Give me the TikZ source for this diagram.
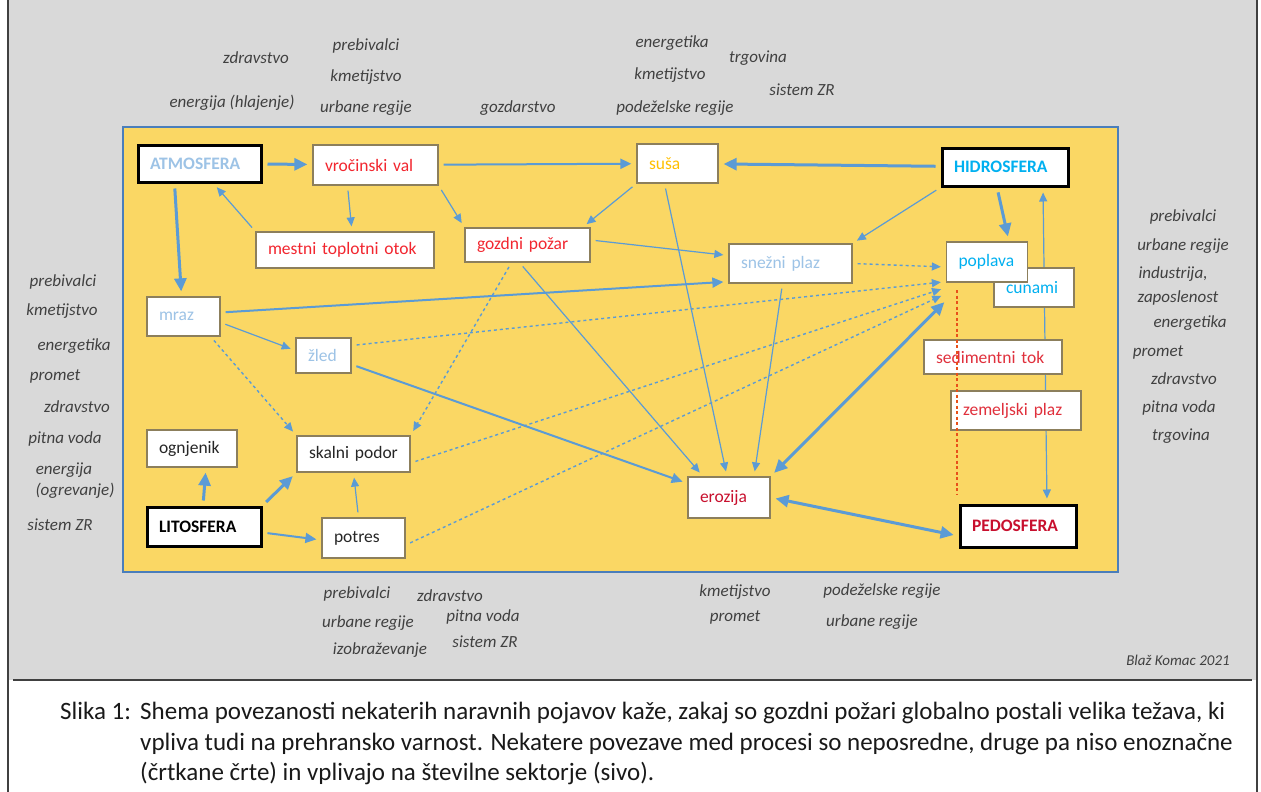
\documentclass[tikz,border=0pt]{standalone}
\usepackage{fontspec}
\setmainfont{Carlito}
\usepackage{tikz}
\usetikzlibrary{arrows.meta}
\usetikzlibrary{calc}
\definecolor{mygrey}{HTML}{D9D9D9}
\definecolor{myyellow}{HTML}{FAD764}
\definecolor{myframe}{HTML}{4A7EBB}
\definecolor{myarrow}{HTML}{5B9BD5}
\definecolor{mybox}{HTML}{8C7F5C}
\definecolor{mylabel}{HTML}{404040}
\definecolor{atmblue}{HTML}{9DC3E6}
\definecolor{hidblue}{HTML}{00B0F0}
\definecolor{myred}{HTML}{F2262F}
\definecolor{sedred}{HTML}{E0303C}
\definecolor{darkred}{HTML}{C8102E}
\definecolor{myorange}{HTML}{FFC000}
\definecolor{mydash}{HTML}{E8501A}
\pgfdeclarelayer{back}
\pgfdeclarelayer{edges}
\pgfsetlayers{back,edges,main}

\begin{document}
\begin{tikzpicture}[x=1pt,y=-1pt,>={Triangle[length=9pt,width=8pt]},
  shorten >=5pt,shorten <=5pt,
  box node/.style={draw=mybox,fill=white,line width=1.3pt,inner xsep=12pt,inner ysep=0pt,
    align=left,text=black!85,font=\fontsize{17.5}{20}\selectfont},
  sphere node/.style={box node,draw=black,line width=3pt,font=\fontsize{17.5}{20}\selectfont\bfseries},
  label node/.style={text=mylabel,inner sep=0pt,font=\fontsize{17}{20}\selectfont\itshape},
  caption node/.style={anchor=base west,inner sep=0pt,text=black!90,font=\fontsize{25}{28}\selectfont},
  thin edge/.style={draw=myarrow,line width=1.2pt,->},
  mid edge/.style={draw=myarrow,line width=2pt,>={Triangle[length=11pt,width=10pt]},->},
  thick edge/.style={draw=myarrow,line width=3pt,>={Triangle[length=13pt,width=12pt]},->},
  dash edge/.style={draw=myarrow,line width=1.4pt,dash pattern=on 3pt off 3pt,->}]

\useasboundingbox (0,0) rectangle (1261,792);

\begin{pgfonlayer}{back}
\fill[mygrey] (8,0) rectangle (1257,680);
\draw[black!75,line width=1.5pt] (8,0) -- (8,792) (1257,0) -- (1257,792) (8,680) -- (1257,680);
\draw[fill=myyellow,draw=myframe,line width=2pt] (123,127) rectangle (1118,572);
\end{pgfonlayer}

% spheres and processes
\node[sphere node,text=atmblue,text width=99pt,minimum height=37pt] (atm) at (199.5,163.5) {ATMOSFERA};
\node[box node,text=myred,text width=101pt,minimum height=40pt] (vval) at (375.5,165) {vročinski val};
\node[box node,text=myorange,text width=57pt,minimum height=39pt] (susa) at (677.5,163.5) {suša};
\node[sphere node,text=hidblue,text width=102pt,minimum height=38pt] (hidro) at (1005,167) {HIDROSFERA};
\node[box node,text=myred,text width=154pt,minimum height=36pt] (mesto) at (345,250) {mestni toplotni otok};
\node[box node,text=myred,text width=101pt,minimum height=34pt] (gozd) at (527.5,245) {gozdni požar};
\node[box node,text=atmblue,text width=99pt,minimum height=39pt] (snez) at (790.5,263.5) {snežni plaz};
\node[box node,text=hidblue,text width=56pt,minimum height=39pt] (cun) at (1034,287.5) {cunami};
\node[box node,text=hidblue,text width=57pt,minimum height=40pt] (popl) at (987,262) {poplava};
\node[box node,text=atmblue,text width=49pt,minimum height=39pt] (mraz) at (183.5,316.5) {mraz};
\node[box node,text=atmblue,text width=31pt,minimum height=35pt] (zled) at (323.5,355.5) {žled};
\node[box node,text=sedred,text width=114pt,minimum height=34pt] (sed) at (993,357) {sedimentni tok};
\node[box node,text=sedred,text width=106pt,minimum height=39pt] (zem) at (1016,410.5) {zemeljski plaz};
\node[box node,text width=66pt,minimum height=37pt] (ogn) at (192,448.5) {ognjenik};
\node[box node,text width=89pt,minimum height=36pt] (skal) at (353.5,454) {skalni podor};
\node[box node,text=darkred,text width=58pt,minimum height=41pt] (eroz) at (729,497.5) {erozija};
\node[sphere node,text=black,text width=90pt,minimum height=39pt] (lito) at (204,526.5) {LITOSFERA};
\node[box node,text width=59pt,minimum height=40pt] (potr) at (363.5,538) {potres};
\node[sphere node,text=darkred,text width=92pt,minimum height=42pt] (pedo) at (1018,526) {PEDOSFERA};

\coordinate (sepA) at (957,290);
\coordinate (sepB) at (957,495);
\draw[mydash,line width=1.2pt,dash pattern=on 3pt off 2.5pt,shorten <=0pt,shorten >=0pt] (sepA) -- (sepB);

% sectors (grey)
\foreach \x/\y/\t [count=\i] in {256/58/zdravstvo,232/103/energija (hlajenje),366/46/prebivalci,
  366/77/kmetijstvo,366/108/urbane regije,518/108/gozdarstvo,672/43/energetika,670/75/kmetijstvo,
  675/108/podeželske regije,758/58/trgovina,802/90/sistem ZR,
  63/282/prebivalci,62/311/kmetijstvo,74/346/energetika,55/376/promet,77/407/zdravstvo,
  65/439/pitna voda,64/470/energija,75/491/(ogrevanje),60/525/sistem ZR,
  1183/217/prebivalci,1183/246/urbane regije,1173/274/{industrija,},1178/298/zaposlenost,
  1190/323/energetika,1158/352/promet,1184/379/zdravstvo,1179/408/pitna voda,1181/436/trgovina,
  357/594/prebivalci,450/596/zdravstvo,483/617/pitna voda,368/623/urbane regije,
  485/642/sistem ZR,380/650/izobraževanje,735/592/kmetijstvo,735/617/promet,
  882/591/podeželske regije,872/622/urbane regije}{
  \node[label node] (lab\i) at (\x,\y) {\t};
}
\node[label node,font=\fontsize{15}{18}\selectfont\itshape] (author) at (1178,660) {Blaž Komac 2021};

\node[caption node] (cap0) at (60,719) {Slika 1:};
\node[caption node] (cap1) at (140,719) {Shema povezanosti nekaterih naravnih pojavov kaže, zakaj so gozdni požari globalno postali velika težava, ki};
\node[caption node] (cap2) at (140,750) {vpliva tudi na prehransko varnost. Nekatere povezave med procesi so neposredne, druge pa niso enoznačne};
\node[caption node] (cap3) at (140,780) {(črtkane črte) in vplivajo na številne sektorje (sivo).};

\begin{pgfonlayer}{edges}
\path
(atm) edge [thick edge] (vval)
([xshift=-25pt]atm.south) edge [thick edge] ([xshift=-2pt]mraz.north)
(mesto.north west) edge [thin edge] ([xshift=14pt]atm.south)
(vval) edge [mid edge] (susa)
([xshift=-28pt]vval.south) edge [thin edge] ([xshift=7pt]mesto.north)
(vval.south east) edge [thin edge] (gozd.north west)
(hidro) edge [thick edge] (susa)
(susa.south west) edge [thin edge] ([xshift=-8pt]gozd.north east)
([xshift=-13pt]susa.south) edge [thin edge] ([xshift=-2pt]eroz.north)
(hidro.south west) edge [thin edge] (snez.north east)
([xshift=-8pt]hidro.south) edge [thick edge] ([xshift=22pt]popl.north)
([xshift=38pt]hidro.south) edge [thin edge,<->] ([xshift=29pt]pedo.north)
([yshift=5pt]gozd.east) edge [thin edge] ([yshift=8pt]snez.west)
([xshift=-8pt]gozd.south) edge [thin edge] ([xshift=-26pt]eroz.north)
([xshift=-16pt]gozd.south) edge [dash edge] (skal.north east)
([yshift=4pt]mraz.east) edge [mid edge] ([yshift=2pt]snez.south west)
([yshift=-6pt]mraz.east) edge [thin edge] ([yshift=5pt]zled.west)
([xshift=-10pt]mraz.south east) edge [dash edge] (skal.north west)
([yshift=-9pt]zled.east) edge [mid edge] ([yshift=-7pt]eroz.north west)
([yshift=10pt]zled.east) edge [dash edge] ([yshift=1pt]popl.south west)
([yshift=-9pt]skal.east) edge [dash edge] ([yshift=-5pt]popl.south west)
([yshift=-7pt]potr.east) edge [dash edge] ([yshift=-11pt]popl.south west)
(snez.east) edge [dash edge] ([yshift=-5pt]popl.west)
([xshift=-8pt]snez.south) edge [thin edge] ([xshift=25pt]eroz.north)
(eroz.north east) edge [thick edge,<->] ([xshift=2pt,yshift=-16pt]popl.south west)
(eroz.east) edge [thick edge,<->] ([yshift=-10pt]pedo.west)
([xshift=-1pt]lito.north) edge [thick edge] ([xshift=14pt]ogn.south)
(lito.north east) edge [thick edge] (skal.south west)
([yshift=-6pt]lito.east) edge [mid edge] ([yshift=-2pt]potr.west)
([xshift=-5pt]potr.north) edge [thin edge] (skal.south)
;
\end{pgfonlayer}
\end{tikzpicture}
\end{document}
